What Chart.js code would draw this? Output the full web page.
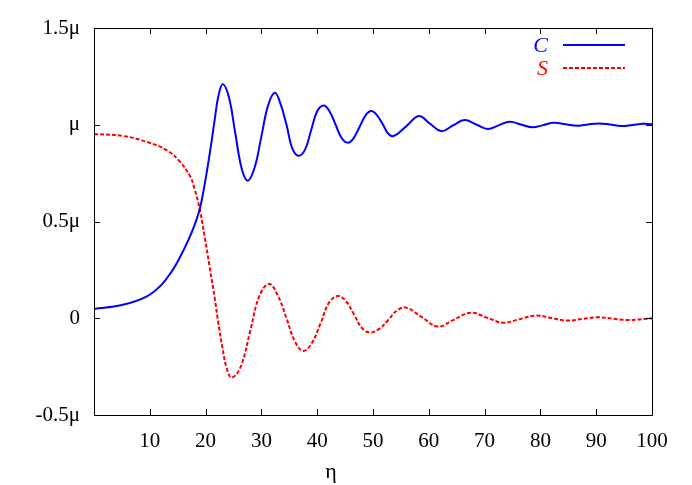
<!DOCTYPE html>
<html>
<head>
<meta charset="utf-8">
<script src="https://cdn.jsdelivr.net/npm/chart.js@4"></script>
<style>
html,body{margin:0;padding:0;background:#fff;}
#wrap{width:692px;height:485px;position:relative;}
</style>
</head>
<body>
<div id="wrap"><canvas id="c" width="692" height="485"></canvas></div>
<script>
// C(eta) curve
const cX = [0, 5, 9.4, 12, 14, 15.5, 17, 18, 19, 20, 21, 21.6, 22.3, 23.1, 24.2, 25.3, 26.5, 27.6, 28.8, 30.0, 31.2, 32.4, 33.4, 34.5, 35.5, 36.6, 37.8, 38.9, 40.0, 41.2, 42.2, 43.3, 44.4, 45.5, 46.5, 47.6, 48.7, 49.7, 50.7, 51.7, 52.7, 53.7, 56.0, 58.2, 60.2, 62.3, 64.3, 66.4, 68.5, 70.6, 72.5, 74.5, 76.5, 78.6, 80.5, 82.4, 84.5, 86.7, 88.5, 90.4, 92.5, 94.5, 96.5, 98.4, 100];
const cY = [0.048, 0.068, 0.112, 0.17, 0.245, 0.32, 0.41, 0.48, 0.57, 0.72, 0.9, 1.02, 1.15, 1.21, 1.14, 0.96, 0.77, 0.711, 0.78, 0.94, 1.10, 1.165, 1.11, 1.0, 0.88, 0.84, 0.87, 0.97, 1.07, 1.10, 1.07, 1.0, 0.93, 0.907, 0.93, 0.99, 1.05, 1.071, 1.05, 1.005, 0.955, 0.942, 0.993, 1.045, 1.006, 0.967, 0.996, 1.024, 1.001, 0.978, 0.997, 1.016, 1.001, 0.987, 0.998, 1.010, 1.002, 0.995, 1.001, 1.007, 1.001, 0.994, 0.999, 1.005, 1.003];
// S(eta) curve
const sX = [0, 5.2, 9.4, 13, 15.4, 17.2, 18, 18.94, 19.84, 20.7, 21.64, 22.2, 23.0, 23.8, 24.7, 26.3, 28.0, 29.7, 31.4, 32.9, 34.45, 36.0, 37.5, 39.0, 40.6, 42.1, 43.7, 45.1, 46.6, 48.0, 49.5, 51.1, 52.7, 54.3, 55.9, 58.75, 61.6, 64.55, 67.5, 70.4, 73.3, 76.25, 79.2, 81.95, 84.7, 87.5, 90.3, 93.0, 95.7, 100];
const sY = [0.952, 0.942, 0.912, 0.869, 0.809, 0.735, 0.67, 0.565, 0.42, 0.27, 0.103, -0.01, -0.15, -0.26, -0.307, -0.25, -0.065, 0.12, 0.177, 0.12, 0.004, -0.12, -0.169, -0.13, -0.027, 0.08, 0.115, 0.09, 0.02, -0.05, -0.074, -0.055, -0.01, 0.04, 0.055, 0.006, -0.043, -0.007, 0.029, 0.003, -0.023, -0.005, 0.014, 0.001, -0.012, -0.004, 0.005, -0.002, -0.009, 0.0];
// tick labels
const xTickValues = [10, 20, 30, 40, 50, 60, 70, 80, 90, 100];
const yTickValues = [-0.5, 0, 0.5, 1, 1.5];
const yTickLabels = ["-0.5\u03bc", "0", "0.5\u03bc", "\u03bc", "1.5\u03bc"];
const seriesNames = ["C", "S"];
const xAxisLabel = "\u03b7";

const toPts = (xs, ys) => xs.map((x, i) => ({x: x, y: ys[i]}));
const FONT = "Liberation Serif";
Chart.defaults.font.family = FONT;
Chart.defaults.color = "#000";

const framePlugin = {
  id: 'frame',
  afterDraw(chart) {
    const ctx = chart.ctx;
    const a = chart.chartArea;
    const xs = chart.scales.x, ys = chart.scales.y;
    ctx.save();
    ctx.strokeStyle = "#000";
    ctx.lineWidth = 1;
    ctx.setLineDash([]);
    ctx.strokeRect(Math.round(a.left) + 0.5, Math.round(a.top) + 0.5, Math.round(a.right - a.left), Math.round(a.bottom - a.top));
    const tl = 6;
    ctx.beginPath();
    xTickValues.forEach(v => {
      const px = Math.round(xs.getPixelForValue(v)) + 0.5;
      ctx.moveTo(px, a.bottom); ctx.lineTo(px, a.bottom - tl);
      ctx.moveTo(px, a.top); ctx.lineTo(px, a.top + tl);
    });
    yTickValues.forEach(v => {
      const py = Math.round(ys.getPixelForValue(v)) + 0.5;
      ctx.moveTo(a.left, py); ctx.lineTo(a.left + tl, py);
      ctx.moveTo(a.right, py); ctx.lineTo(a.right - tl, py);
    });
    ctx.stroke();
    // x axis label
    ctx.fillStyle = "#000";
    ctx.font = "22px " + FONT;
    ctx.textAlign = "center";
    ctx.textBaseline = "alphabetic";
    ctx.fillText(xAxisLabel, 331, 478);
    // legend
    const entries = [
      {name: seriesNames[0], color: "#0000ff", dash: [], y: 45},
      {name: seriesNames[1], color: "#ff0000", dash: [4, 2], y: 68}
    ];
    ctx.font = "italic 22px " + FONT;
    ctx.textAlign = "right";
    ctx.textBaseline = "middle";
    entries.forEach(e => {
      ctx.fillStyle = e.color;
      ctx.fillText(e.name, 548, e.y + 1);
      ctx.beginPath();
      ctx.strokeStyle = e.color;
      ctx.lineWidth = 2;
      ctx.setLineDash(e.dash);
      ctx.moveTo(563, e.y); ctx.lineTo(625, e.y);
      ctx.stroke();
    });
    ctx.restore();
  }
};

new Chart(document.getElementById('c'), {
  type: 'line',
  data: {
    datasets: [
      {label: seriesNames[0], data: toPts(cX, cY), borderColor: "#0000ff", borderWidth: 2, pointRadius: 0, tension: 0.4, fill: false},
      {label: seriesNames[1], data: toPts(sX, sY), borderColor: "#ff0000", borderWidth: 2, borderDash: [4, 2], pointRadius: 0, tension: 0.4, fill: false}
    ]
  },
  options: {
    responsive: false,
    animation: false,
    layout: {padding: {left: 0, right: 40, top: 28, bottom: 0}},
    plugins: {legend: {display: false}, tooltip: {enabled: false}},
    scales: {
      x: {
        type: 'linear', min: 0, max: 100,
        border: {display: false},
        grid: {display: false, drawTicks: false, tickLength: 0},
        afterBuildTicks: s => { s.ticks = [0].concat(xTickValues).map(v => ({value: v})); },
        afterFit: s => { s.height = 70; },
        ticks: {font: {size: 21}, padding: 14, maxRotation: 0, autoSkip: false,
          callback: v => xTickValues.includes(v) ? String(v) : ''}
      },
      y: {
        type: 'linear', min: -0.5, max: 1.5,
        border: {display: false},
        grid: {display: false, drawTicks: false, tickLength: 0},
        afterBuildTicks: s => { s.ticks = yTickValues.map(v => ({value: v})); },
        afterFit: s => { s.width = 94; },
        ticks: {font: {size: 21}, padding: 14, autoSkip: false,
          callback: v => { const i = yTickValues.indexOf(v); return i >= 0 ? yTickLabels[i] : ''; }}
      }
    }
  },
  plugins: [framePlugin]
});
</script>
</body>
</html>
